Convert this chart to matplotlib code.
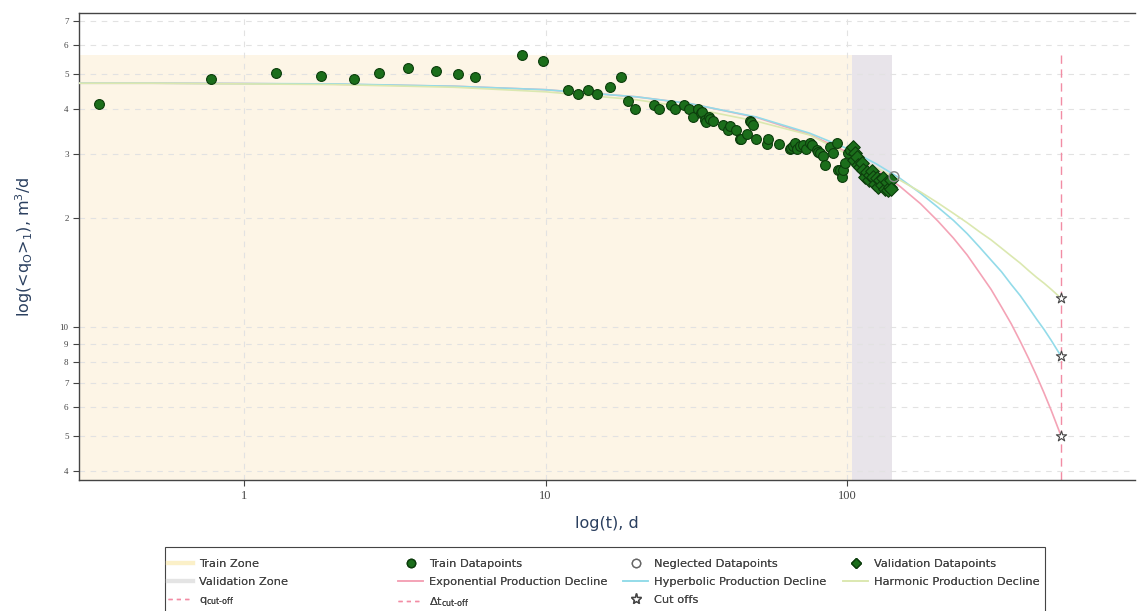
import matplotlib.pyplot as plt
from matplotlib.lines import Line2D
from matplotlib.patches import Rectangle

# measured rates, t in days, q in m3/d
train_t = [0.33, 0.78, 1.28, 1.80, 2.32, 2.80, 3.50, 4.33, 5.13, 5.84, 8.36, 9.81,
           11.9, 12.8, 13.8, 14.8, 16.4, 17.8, 18.8, 19.8, 22.9, 23.8, 26.1, 26.9,
           28.8, 29.9, 30.8, 32.1, 32.8, 33.0, 33.8, 34.1, 34.8, 35.1, 35.9, 38.8,
           40.3, 40.9, 42.8, 44.2, 44.5, 46.6, 47.7, 48.0, 48.8, 49.9, 54.3, 54.7,
           59.5, 64.7, 65.2, 66.2, 67.2, 68.3, 69.8, 71.5, 73.1, 75.4, 76.6, 79.5,
           80.1, 81.3, 83.2, 84.5, 87.8, 89.9, 92.7, 93.4, 94.8, 96.2, 97.0, 98.5,
           100.8, 102.3]
train_q = [41.3, 48.4, 50.3, 49.4, 48.4, 50.3, 51.9, 50.9, 50.0, 49.0, 56.4, 54.3,
           45.2, 44.0, 45.2, 44.0, 46.0, 49.0, 42.1, 40.0, 41.0, 40.0, 41.0, 40.0,
           41.0, 40.0, 38.0, 40.0, 39.0, 39.3, 37.3, 36.8, 38.0, 37.5, 37.1, 36.1,
           35.0, 35.9, 35.0, 33.1, 33.1, 34.1, 37.1, 36.8, 36.1, 33.1, 32.0, 33.1,
           32.0, 31.0, 31.2, 31.6, 32.2, 31.0, 31.6, 31.8, 31.0, 32.2, 31.8, 30.8,
           30.4, 30.2, 29.7, 28.0, 31.4, 30.2, 32.2, 27.1, 27.1, 26.0, 27.1, 28.4,
           30.2, 30.8]

valid_t = [104.7, 105.5, 106.3, 107.9, 108.5, 110.4, 112.0, 113.0, 115.0, 116.5,
           118.0, 119.2, 121.0, 122.0, 124.0, 125.9, 127.0, 128.5, 130.0, 131.5,
           133.0, 135.7, 137.0, 138.9, 139.5, 140.0]
valid_q = [31.4, 29.0, 30.2, 29.5, 28.0, 27.7, 28.4, 27.1, 26.0, 26.8,
           25.5, 26.3, 27.0, 26.0, 24.8, 25.8, 24.4, 25.5, 24.6, 25.8,
           24.0, 25.2, 23.9, 24.4, 25.5, 24.0]

neglected_t = [143.0]
neglected_q = [26.0]

# fitted decline curves
curve_t = [0.28, 0.5, 1, 2, 5, 10, 20, 30, 50, 75, 100, 125, 150, 175,
           200, 225, 250, 275, 300, 325, 350, 375, 400, 425, 450, 475, 512]
exp_q = [47.1, 47.1, 47.0, 46.8, 46.2, 45.2, 43.2, 41.4, 37.9, 34.0, 30.4, 27.3, 24.4, 21.9,
         19.6, 17.6, 15.8, 14.1, 12.7, 11.35, 10.2, 9.12, 8.17, 7.32, 6.56, 5.88, 5.0]
hyp_q = [47.1, 47.1, 47.0, 46.9, 46.2, 45.2, 43.2, 41.4, 38.0, 34.3, 31.1, 28.2, 25.7, 23.4,
         21.4, 19.7, 18.1, 16.6, 15.3, 14.2, 13.1, 12.2, 11.3, 10.5, 9.83, 9.18, 8.3]
harm_q = [47.1, 47.1, 46.9, 46.7, 45.9, 44.6, 42.4, 40.3, 37.0, 33.9, 30.0, 27.5, 25.4, 23.6,
          22.0, 20.6, 19.4, 18.3, 17.4, 16.5, 15.7, 15.0, 14.3, 13.7, 13.2, 12.7, 12.0]

t_cutoff = 510
cutoff_q = [5.0, 8.3, 12.0]

train_zone = (0.28, 103.9)
valid_zone = (103.9, 141.0)
zone_top = 56.4

y_ticks = [4, 5, 6, 7, 8, 9, 10, 20, 30, 40, 50, 60, 70]
y_labels = ['4', '5', '6', '7', '8', '9', '10', '2', '3', '4', '5', '6', '7']

GREEN = '#1b6e1b'
GREEN_EDGE = '#0c3d0c'
PINK = '#f4a3b6'
CYAN = '#93dbe9'
LIME = '#dbe8b0'
CUT = '#f28ca4'

fig = plt.figure(figsize=(11.4, 6.11), dpi=100)
ax = fig.add_axes([0.0693, 0.2144, 0.9263, 0.7643])
ax.set_xscale('log')
ax.set_yscale('log')
ax.set_xlim(0.284, 900)
ax.set_ylim(3.78, 73.6)

ax.fill_between(train_zone, 0, zone_top, color='#fdf5e6', lw=0, zorder=0)
ax.fill_between(valid_zone, 0, zone_top, color='#e8e4ea', lw=0, zorder=0)

ax.plot(curve_t, exp_q, color=PINK, lw=1.2, zorder=3)
ax.plot(curve_t, hyp_q, color=CYAN, lw=1.2, zorder=3)
ax.plot(curve_t, harm_q, color=LIME, lw=1.2, zorder=3)

ax.plot([t_cutoff, t_cutoff], [3.78, zone_top], color=CUT, lw=1, ls=(0, (6, 4)), zorder=2)

ax.scatter(train_t, train_q, s=50, color=GREEN, edgecolors=GREEN_EDGE, linewidths=0.8, zorder=4)
ax.scatter(valid_t, valid_q, s=48, marker='D', color=GREEN, edgecolors=GREEN_EDGE,
           linewidths=0.8, zorder=4)
ax.scatter(neglected_t, neglected_q, s=50, facecolors='none', edgecolors='#888888',
           linewidths=1.0, zorder=5)
ax.scatter([t_cutoff] * 3, cutoff_q, s=60, marker='*', facecolors='white',
           edgecolors='#444444', linewidths=0.8, zorder=5)

ax.set_xticks([1, 10, 100])
ax.set_xticklabels(['1', '10', '100'])
ax.set_yticks(y_ticks)
ax.set_yticklabels(y_labels)
ax.minorticks_off()
ax.tick_params(axis='x', length=4, color='#444444', labelsize=9, labelcolor='#444444')
ax.tick_params(axis='y', length=4, color='#444444', labelsize=6.5, labelcolor='#444444')
for lbl in ax.get_xticklabels() + ax.get_yticklabels():
    lbl.set_family('Liberation Serif')

ax.grid(True, which='major', color='#e2e2e2', ls=(0, (5, 5)), lw=0.8)
ax.set_axisbelow(True)
for side in ['left', 'bottom', 'top']:
    ax.spines[side].set_color('#444444')
    ax.spines[side].set_linewidth(1)
ax.spines['right'].set_visible(False)

ax.set_xlabel('log(t), d', fontsize=11.5, color='#2a3f5f', labelpad=10)
ax.set_ylabel(r'log(<q$_{\mathregular{O}}$>$_{\mathregular{1}}$), m$^{\mathregular{3}}$/d',
              fontsize=11.5, color='#2a3f5f', labelpad=18)

# legend: one block per column so the columns sit at fixed positions
columns = [
    [(Line2D([], [], color='#fbf0c8', lw=3), 'Train Zone'),
     (Line2D([], [], color='#e4e4e4', lw=3), 'Validation Zone'),
     (Line2D([], [], color=CUT, lw=1, ls=(0, (3, 3))), r'q$_{\mathregular{cut\text{-}off}}$')],
    [(Line2D([], [], marker='o', ls='none', color=GREEN, markeredgecolor=GREEN_EDGE, ms=6),
      'Train Datapoints'),
     (Line2D([], [], color=PINK, lw=1.2), 'Exponential Production Decline'),
     (Line2D([], [], color=CUT, lw=1, ls=(0, (3, 3))), r'$\Delta$t$_{\mathregular{cut\text{-}off}}$')],
    [(Line2D([], [], marker='o', ls='none', markerfacecolor='white',
             markeredgecolor='#666666', ms=6), 'Neglected Datapoints'),
     (Line2D([], [], color=CYAN, lw=1.2), 'Hyperbolic Production Decline'),
     (Line2D([], [], marker='*', ls='none', markerfacecolor='white',
             markeredgecolor='#444444', ms=8), 'Cut offs')],
    [(Line2D([], [], marker='D', ls='none', color=GREEN, markeredgecolor=GREEN_EDGE, ms=5),
      'Validation Datapoints'),
     (Line2D([], [], color=LIME, lw=1.2), 'Harmonic Production Decline')],
]
col_x = [168, 398, 623, 843]
for x0, entries in zip(col_x, columns):
    hs = [e[0] for e in entries]
    ls = [e[1] for e in entries]
    leg = fig.legend(hs, ls, loc='upper left', bbox_to_anchor=(x0 / 1140, 1 - 559 / 611),
                     fontsize=8.2, frameon=False, handlelength=2.2, handletextpad=0.5,
                     labelspacing=0.72, borderpad=0, borderaxespad=0, labelcolor='#444444')
    fig.add_artist(leg)

fig.add_artist(Rectangle((165 / 1140, -0.01), (1045 - 165) / 1140, 0.01 + 1 - 547 / 611,
                         transform=fig.transFigure, fill=False, edgecolor='#444444', lw=0.8))

fig.savefig('out.png', dpi=100)
